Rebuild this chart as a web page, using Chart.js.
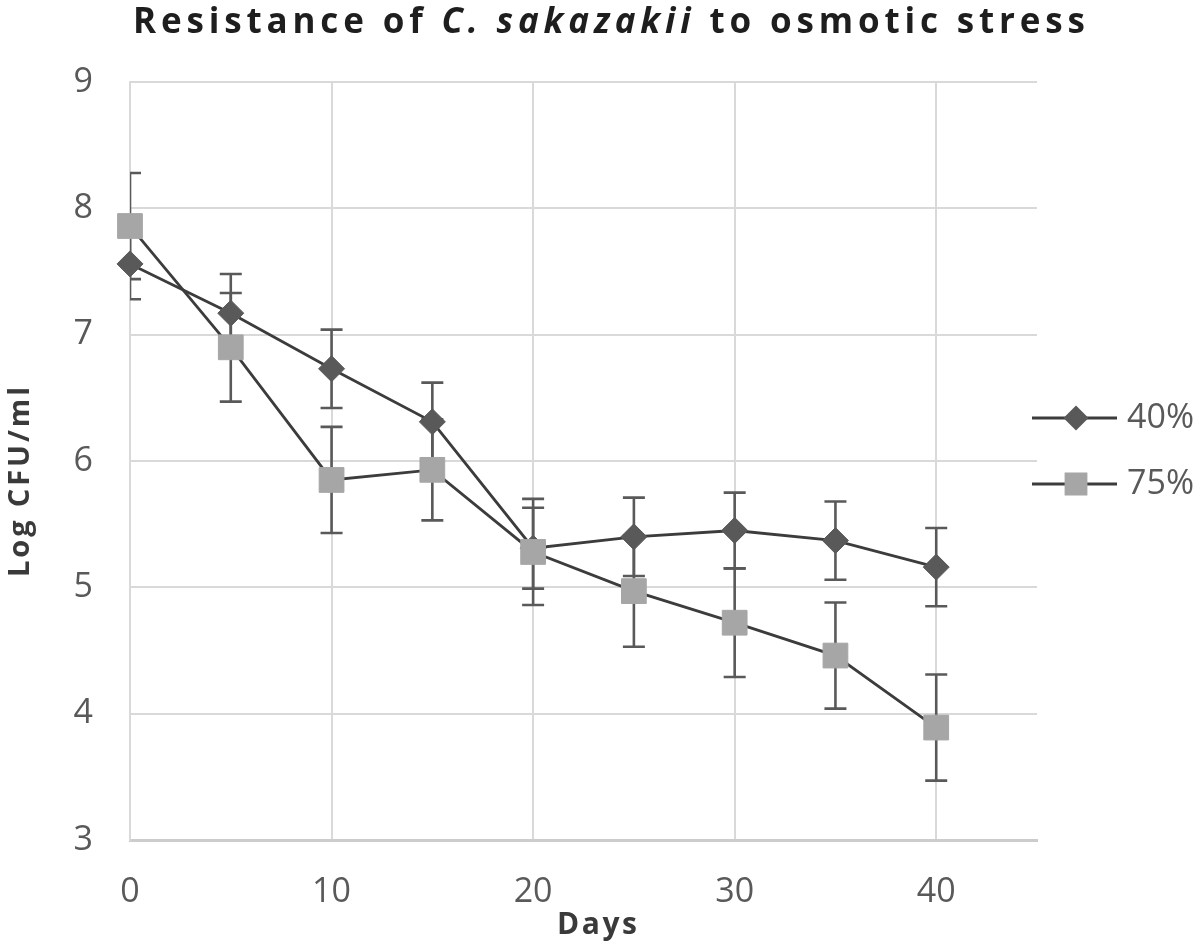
<!DOCTYPE html>
<html><head><meta charset="utf-8">
<script src="https://cdn.jsdelivr.net/npm/chart.js@4/dist/chart.umd.min.js"></script>
<style>html,body{margin:0;padding:0;background:#fff;}#wrap{width:1200px;height:950px;}</style>
</head><body><div id="wrap"><canvas id="c" width="1200" height="950"></canvas></div>
<script>
const days = [0, 5, 10, 15, 20, 25, 30, 35, 40];
const series40 = [7.56, 7.17, 6.73, 6.31, 5.31, 5.40, 5.45, 5.37, 5.16];
const err40 = [0.28, 0.31, 0.31, 0.31, 0.32, 0.31, 0.30, 0.31, 0.31];
const series75 = [7.86, 6.90, 5.85, 5.93, 5.28, 4.97, 4.72, 4.46, 3.89];
const err75 = [0.42, 0.43, 0.42, 0.40, 0.42, 0.44, 0.43, 0.42, 0.42];
const seriesLabels = ['40%', '75%'];
const xTicks = [0, 10, 20, 30, 40];
const yTicks = [3, 4, 5, 6, 7, 8, 9];
const titleParts = [['Resistance of ', false], ['C. sakazakii', true], [' to osmotic stress', false]];
const xTitle = 'Days';
const yTitle = 'Log CFU/ml';

const FONT = "'Open Sans', 'DejaVu Sans', sans-serif";
const GRID = '#d9d9d9';
const TICKCOL = '#595959';

function spacedText(ctx, text, targetW, x, y, align) {
  ctx.letterSpacing = '0px';
  const nat = ctx.measureText(text).width;
  const sp = (targetW - nat) / Math.max(1, text.length - 1);
  ctx.letterSpacing = sp + 'px';
  ctx.textAlign = 'left';
  const start = align === 'center' ? x - targetW / 2 : x;
  ctx.fillText(text, start, y);
  ctx.letterSpacing = '0px';
}

const extras = {
  id: 'extras',
  beforeDatasetsDraw(chart) {
    const { ctx, chartArea: a, scales: { x, y } } = chart;
    ctx.save();
    ctx.beginPath();
    ctx.rect(a.left, 0, a.right - a.left, chart.height);
    ctx.clip();
    ctx.strokeStyle = '#595959';
    ctx.lineWidth = 2.6;
    [[series40, err40], [series75, err75]].forEach(([vals, errs]) => {
      vals.forEach((v, i) => {
        const px = x.getPixelForValue(days[i]);
        const yt = y.getPixelForValue(v + errs[i]);
        const yb = y.getPixelForValue(v - errs[i]);
        ctx.beginPath();
        ctx.moveTo(px, yt); ctx.lineTo(px, yb);
        ctx.moveTo(px - 11, yt); ctx.lineTo(px + 11, yt);
        ctx.moveTo(px - 11, yb); ctx.lineTo(px + 11, yb);
        ctx.stroke();
      });
    });
    ctx.restore();
  },
  afterDraw(chart) {
    const { ctx } = chart;
    ctx.save();
    // Title
    const tSize = 35;
    const fontFor = (it) => (it ? 'italic ' : '') + 'bold ' + tSize + 'px ' + FONT;
    let total = 0, nChars = 0;
    titleParts.forEach(([t, it]) => { ctx.font = fontFor(it); ctx.letterSpacing = '0px'; total += ctx.measureText(t).width; nChars += t.length; });
    const targetW = 952;
    const sp = (targetW - total) / (nChars - 1);
    let cx = 609 - targetW / 2;
    ctx.fillStyle = '#1e1e1e';
    ctx.textBaseline = 'middle';
    ctx.textAlign = 'left';
    titleParts.forEach(([t, it]) => {
      ctx.font = fontFor(it);
      ctx.letterSpacing = '0px';
      const w = ctx.measureText(t).width;
      ctx.letterSpacing = sp + 'px';
      ctx.fillText(t, cx, 23);
      cx += w + sp * t.length;
    });
    ctx.letterSpacing = '0px';

    // Axis titles
    ctx.fillStyle = '#3a3a3a';
    ctx.font = 'bold 30px ' + FONT;
    spacedText(ctx, xTitle, 80, 597, 925, 'center');
    ctx.save();
    ctx.translate(21, 482);
    ctx.rotate(-Math.PI / 2);
    ctx.font = 'bold 29px ' + FONT;
    spacedText(ctx, yTitle, 190, 0, 0, 'center');
    ctx.restore();

    // Legend
    chart.data.datasets.forEach((ds, i) => {
      const ly = 418 + i * 66;
      ctx.strokeStyle = ds.borderColor;
      ctx.lineWidth = 3;
      ctx.beginPath();
      ctx.moveTo(1032, ly); ctx.lineTo(1117, ly);
      ctx.stroke();
      ctx.fillStyle = ds.pointBackgroundColor;
      ctx.strokeStyle = ds.pointBorderColor;
      Chart.helpers.drawPoint(ctx, { pointStyle: ds.pointStyle, radius: ds.pointRadius * 0.8, rotation: 0, borderWidth: ds.pointBorderWidth }, 1076, ly);
      ctx.fillStyle = TICKCOL;
      ctx.font = '34px ' + FONT;
      ctx.textAlign = 'left';
      ctx.textBaseline = 'middle';
      ctx.fillText(ds.label, 1127, ly);
    });
    ctx.restore();
  }
};

const ctx = document.getElementById('c').getContext('2d');
new Chart(ctx, {
  type: 'scatter',
  data: {
    datasets: [
      {
        label: seriesLabels[0],
        data: days.map((d, i) => ({ x: d, y: series40[i] })),
        showLine: true,
        borderColor: '#3c3c3c',
        borderWidth: 2.8,
        pointStyle: 'rectRot',
        pointRadius: 13,
        pointBackgroundColor: '#595959',
        pointBorderColor: '#595959',
        pointBorderWidth: 1,
        order: 2,
        clip: false
      },
      {
        label: seriesLabels[1],
        data: days.map((d, i) => ({ x: d, y: series75[i] })),
        showLine: true,
        borderColor: '#3c3c3c',
        borderWidth: 2.8,
        pointStyle: 'rect',
        pointRadius: 17.5,
        pointBackgroundColor: '#a6a6a6',
        pointBorderColor: '#a6a6a6',
        pointBorderWidth: 1,
        order: 1,
        clip: false
      }
    ]
  },
  options: {
    responsive: false,
    animation: false,
    devicePixelRatio: 1,
    layout: { padding: { left: 0, top: 82, right: 163, bottom: 0 } },
    plugins: { legend: { display: false }, title: { display: false }, tooltip: { enabled: false } },
    scales: {
      x: {
        type: 'linear', min: 0, max: 45,
        afterBuildTicks: (s) => { s.ticks = xTicks.map(v => ({ value: v })); },
        afterFit: (s) => { s.height = 110; },
        grid: { color: GRID, lineWidth: 2, drawTicks: false },
        border: { display: true, color: '#cccccc', width: 3 },
        ticks: { color: TICKCOL, font: { family: FONT, size: 34 }, padding: 32, maxRotation: 0 }
      },
      y: {
        type: 'linear', min: 3, max: 9,
        afterBuildTicks: (s) => { s.ticks = yTicks.map(v => ({ value: v })); },
        afterFit: (s) => { s.width = 130; },
        grid: { color: GRID, lineWidth: 2, drawTicks: false },
        border: { display: true, color: GRID, width: 2 },
        ticks: { color: TICKCOL, font: { family: FONT, size: 34 }, padding: 37 }
      }
    }
  },
  plugins: [extras]
});
</script>
</body></html>
